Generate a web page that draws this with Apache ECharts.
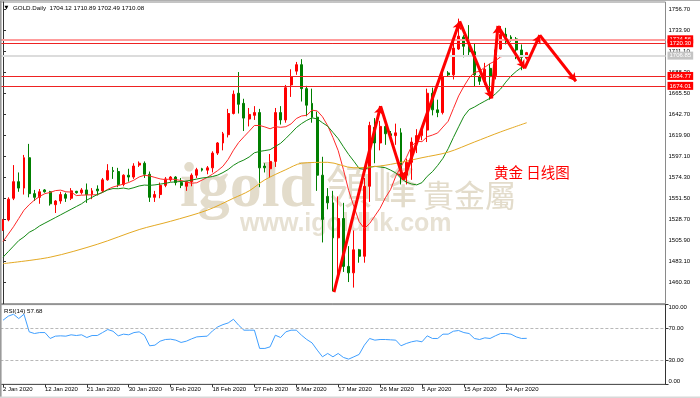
<!DOCTYPE html>
<html><head><meta charset="utf-8">
<script src="https://cdn.jsdelivr.net/npm/echarts@6/dist/echarts.min.js"></script>
<style>html,body{margin:0;padding:0;background:#fff}#c{width:700px;height:398px}</style>
</head><body><div id="c"></div>
<script>
// ---- data ----
const tickLabels = ['2 Jan 2020','12 Jan 2020','21 Jan 2020','30 Jan 2020','9 Feb 2020','18 Feb 2020','27 Feb 2020','8 Mar 2020','17 Mar 2020','26 Mar 2020','5 Apr 2020','15 Apr 2020','24 Apr 2020'];
const opens  = [1517.5,1528.5,1552,1570,1563,1596,1557,1553,1561,1559,1545,1549,1556,1552,1559.5,1558,1561,1556,1562,1560,1572,1582,1581,1567,1577,1575,1588,1590,1578,1553,1556,1566,1572,1575,1569,1565,1570,1577,1584,1582.5,1585,1601,1612,1621,1644,1666,1655,1638,1642,1645,1587,1584,1592,1645,1637,1675,1690,1697,1671,1655,1640,1577,1554,1547,1509,1530,1478,1471,1496,1489,1565,1629,1612,1630,1622,1620,1623,1577,1591,1613,1620,1626,1666,1648,1645,1688,1686,1714,1727,1717,1711,1684,1679,1693,1685,1714,1730,1727,1725,1713,1704.12];
const highs  = [1529.5,1553,1588,1580,1599,1611,1561,1562,1562,1560,1550,1559,1558,1563,1560,1563,1568,1563,1566,1574,1589,1586,1585,1578,1584,1590,1592,1592,1581,1560,1569,1575,1576,1576,1574,1571,1579,1585,1585,1587,1603,1613,1624,1649,1669,1689,1660,1650,1652,1649,1590,1600,1650,1652,1675,1692,1700,1703,1674,1671,1646,1597,1563,1560,1554,1547,1500,1517,1497,1574,1635,1639,1636,1635,1625,1633,1628,1595,1618,1627,1630,1671,1672,1659,1690,1690,1723,1747,1729,1740,1720,1686,1699,1698,1718,1739,1737,1729,1727,1719,1710.89];
const lows   = [1516.5,1527,1550,1559,1556,1553,1549,1546,1558,1544,1536,1546,1548,1550,1557,1556,1547,1551,1555,1558,1571,1573,1564,1565,1570,1573,1586,1574,1548,1548,1552,1564,1570,1566,1563,1560,1565,1574,1581,1578,1580,1599,1604,1618,1643,1644,1625,1630,1637,1564,1580,1574,1586,1632,1634,1662,1686,1657,1641,1634,1560,1504,1540,1451,1466,1472,1461,1455,1482,1482,1548,1590,1604,1610,1617,1610,1567,1567,1572,1601,1615,1613,1642,1640,1643,1684,1681,1713,1705,1707,1673,1675,1675,1659,1681,1713,1719,1722,1703,1691,1702.49];
const closes = [1528.5,1551,1570,1563,1596,1557,1553,1559,1559,1546,1549,1556,1552,1560,1558,1561,1556,1560,1560,1572,1582,1581,1567,1577,1575,1587,1590,1578,1553,1556,1566,1573,1575,1569,1566,1570,1577,1583,1582.5,1585,1601,1612,1622,1644,1665,1654,1639,1643,1645,1585,1585,1592,1645,1637,1672,1684,1697,1671,1653,1640,1577,1529,1547,1509,1530,1478,1471,1496,1489,1565,1631,1612,1630,1622,1620,1623,1577,1591,1613,1620,1626,1666,1648,1645,1684,1686,1715,1728,1717,1711,1686,1679,1692,1684,1713,1730,1727,1725,1713,1705,1710.08];
const ma10Lead = [1505,1513,1521,1530,1539,1545,1550,1554,1557];
const ma20Lead = [1488,1494,1500,1506,1510,1515,1518,1522,1525,1528,1531,1534,1537,1540,1543,1546,1550,1553,1556];
const slowMaIdx = [0,9,18,26,32,39,44,47,50,54,57,62,67,72,76,80,85,90,95,100];
const slowMaVal = [1481,1488,1502,1518,1527,1539,1552,1560,1572,1583,1590,1591,1585,1587,1591,1596,1602,1613,1624,1634];
const rsi = [80.4,85.5,87.9,82.5,87.9,65.8,63.7,64.9,64.9,57.5,60.4,60.8,60.4,62.1,61.2,62.1,58.7,61.2,61.2,64.9,68.7,66.6,60.8,62.9,62.1,64.9,65.8,61.6,48.3,49.1,54.1,56.2,56.6,55.4,52.5,54.1,57.0,59.5,60.0,60.4,67.0,72.0,74.9,77.0,81.6,74.1,67.9,67.9,67.9,45.0,45.0,47.0,61.6,58.7,65.8,67.9,67.9,61.6,56.2,52.0,42.9,34.5,38.7,34.5,38.7,33.7,31.6,34.5,37.5,49.1,57.5,55.4,56.2,56.2,55.8,55.4,48.3,51.2,53.3,54.6,53.3,60.8,57.5,57.5,62.9,62.9,66.6,67.5,64.9,63.7,57.5,56.2,58.3,57.5,60.8,63.7,63.7,62.9,59.5,57.5,57.68];
const levelVals   = [1724.56, 1720.30, 1706.85, 1684.77, 1674.01];
const arrowIdx   = [63.2, 72.1, 76.5, 87.2, 93.3, 94.5, 99.6, 102.5, 109.4];
const arrowPrice = [1450, 1652, 1572, 1744, 1660.5, 1739, 1693, 1729, 1679];
const rsiLevels = [70, 30];
const headerText = 'GOLD.Daily  1704.12 1710.89 1702.49 1710.08';
const rsiText = 'RSI(14) 57.68';

// ---- build ----
const N = 127;
const cats = Array.from({length: N}, (_, i) => String(i));
const candles = opens.map((o, i) => [o, closes[i], lows[i], highs[i]]);
function sma(n, lead) {
  return closes.map((c, i) => {
    if (i < n - 1) return lead[i];
    let s = 0; for (let k = i - n + 1; k <= i; k++) s += closes[k];
    return +(s / n).toFixed(2);
  });
}
const ma10 = sma(10, ma10Lead), ma20 = sma(20, ma20Lead);
const slowMa = slowMaIdx.map((x, i) => [x, slowMaVal[i]]);
const arrowLegs = [];
for (let i = 0; i < arrowIdx.length - 1; i++) arrowLegs.push([{coord: [arrowIdx[i], arrowPrice[i]]}, {coord: [arrowIdx[i+1], arrowPrice[i+1]]}]);
const levelStyles = [
  {line: '#ff9c9c', w: 2, bg: '#ff0000'},
  {line: '#ee2222', w: 1, bg: '#ff0000'},
  {line: '#dcdcdc', w: 2, bg: '#c4c4c4'},
  {line: '#ee2222', w: 1, bg: '#ff0000'},
  {line: '#ee2222', w: 1, bg: '#ff0000'}
];
const FF = '"Liberation Sans", Arial, sans-serif';
const tickFn = (i) => i % 8 === 0 && i / 8 < tickLabels.length;

const chart = echarts.init(document.getElementById('c'), null, {renderer: 'canvas'});
chart.setOption({
  animation: false,
  backgroundColor: '#ffffff',
  grid: [
    {left: 0.4, right: 34.5, top: 2, height: 301.7, show: true, borderColor: '#8a8a8a', borderWidth: 1, outerBoundsMode: 'none', containLabel: false},
    {left: 0.4, right: 34.5, top: 304.6, height: 79.7, show: true, borderColor: '#8a8a8a', borderWidth: 1, outerBoundsMode: 'none', containLabel: false}
  ],
  xAxis: [
    {type: 'category', gridIndex: 0, data: cats, boundaryGap: true, axisLine: {show: false}, axisTick: {show: false}, axisLabel: {show: false}, splitLine: {show: false}},
    {type: 'value', gridIndex: 0, min: -0.5, max: N - 0.5, show: false, splitLine: {show: false}},
    {type: 'category', gridIndex: 1, data: cats, boundaryGap: true,
     axisLine: {show: true, lineStyle: {color: '#555', width: 1}},
     axisTick: {show: true, interval: tickFn, alignWithLabel: true, length: 3, lineStyle: {color: '#333'}},
     axisLabel: {show: true, interval: tickFn, align: 'left', fontSize: 6, fontFamily: FF, color: '#000', margin: 2,
       formatter: (v, i) => tickLabels[Math.round(i / 8)] || ''},
     splitLine: {show: false}}
  ],
  yAxis: [
    {type: 'value', gridIndex: 0, position: 'right', min: 1437.5, max: 1765.06, interval: 22.8, scale: true,
     axisLine: {show: true, lineStyle: {color: '#333', width: 1}},
     axisTick: {show: true, length: 3, lineStyle: {color: '#333'}},
     axisLabel: {fontSize: 6, fontFamily: FF, color: '#000', margin: 3, showMinLabel: false, showMaxLabel: false,
       formatter: v => v.toFixed(2)},
     splitLine: {show: false}},
    {type: 'value', gridIndex: 1, position: 'right', min: 0, max: 100,
     axisLine: {show: true, lineStyle: {color: '#333', width: 1}},
     axisTick: {show: true, length: 3, customValues: [0, 30, 70, 100], lineStyle: {color: '#333'}},
     axisLabel: {fontSize: 6, fontFamily: FF, color: '#000', margin: 3, customValues: [0, 30, 70, 100],
       verticalAlignMinLabel: 'bottom', verticalAlignMaxLabel: 'top', formatter: v => v.toFixed(2)},
     splitLine: {show: false}}
  ],
  series: [
    {type: 'candlestick', name: 'GOLD', xAxisIndex: 0, yAxisIndex: 0, data: candles, barWidth: 2.4, z: 3,
     itemStyle: {color: '#ff0000', color0: '#007f00', borderColor: '#ff0000', borderColor0: '#007f00', borderWidth: 1},
     markLine: {silent: true, symbol: ['none', 'none'], animation: false, z: 6,
       data: levelVals.map((v, i) => ({yAxis: v,
         lineStyle: {color: levelStyles[i].line, width: levelStyles[i].w, type: 'solid'},
         label: {show: true, position: 'end', distance: 2, formatter: p => Number(p.value).toFixed(2),
           backgroundColor: levelStyles[i].bg, color: '#fff', fontSize: 6, fontFamily: FF, padding: [1, 2, 1, 2]}}))}},
    {type: 'line', name: 'MA10', xAxisIndex: 0, yAxisIndex: 0, data: ma10, symbol: 'none', z: 4,
     lineStyle: {color: '#ff2a2a', width: 1}},
    {type: 'line', name: 'MA20', xAxisIndex: 0, yAxisIndex: 0, data: ma20, symbol: 'none', z: 4,
     lineStyle: {color: '#158a15', width: 1}},
    {type: 'line', name: 'MAslow', xAxisIndex: 1, yAxisIndex: 0, data: slowMa, symbol: 'none', smooth: 0.3, z: 4,
     lineStyle: {color: '#e4a923', width: 1}},
    {type: 'line', name: 'arrows', xAxisIndex: 1, yAxisIndex: 0, data: arrowIdx.map((x, i) => [x, arrowPrice[i]]), symbol: 'none', z: 5,
     lineStyle: {opacity: 0},
     markLine: {silent: true, symbol: ['none', 'arrow'], symbolSize: [7, 8], animation: false, z: 7,
       lineStyle: {color: '#ff0000', width: 3, type: 'solid'}, label: {show: false}, data: arrowLegs}},
    {type: 'line', name: 'RSI', xAxisIndex: 2, yAxisIndex: 1, data: rsi, symbol: 'none', z: 4,
     lineStyle: {color: '#3f9fff', width: 1},
     markLine: {silent: true, symbol: ['none', 'none'], animation: false, label: {show: false},
       lineStyle: {color: '#b8b8b8', width: 1, type: [3, 2]}, data: rsiLevels.map(v => ({yAxis: v}))}}
  ],
  graphic: [
    {type: 'text', x: 180, y: 189, z: 0, silent: true, style: {text: 'igold', fontSize: 64, fontWeight: 'bold', fontFamily: '"Liberation Serif", serif', fill: '#e3dccb', verticalAlign: 'middle'}},
    {type: 'text', x: 326, y: 186, z: 0, silent: true, style: {text: '領峰', fontSize: 46, fontFamily: '"Noto Sans CJK TC"', fill: '#e3dccb', verticalAlign: 'middle'}},
    {type: 'text', x: 423, y: 195, z: 0, silent: true, style: {text: '貴金屬', fontSize: 31, fontFamily: '"Noto Sans CJK TC"', fill: '#e3dccb', verticalAlign: 'middle'}},
    {type: 'text', x: 240, y: 224, z: 0, silent: true, style: {text: 'www.igoldhk.com', fontSize: 25, fontWeight: 'bold', fontFamily: FF, fill: '#e7e1d3', verticalAlign: 'middle'}},
    {type: 'text', x: 494, y: 172, z: 50, silent: true, style: {text: '黄金 日线图', fontSize: 14.5, fontFamily: '"Noto Sans CJK SC"', fill: '#ff0000', verticalAlign: 'middle'}},
    {type: 'text', x: 4.5, y: 8, z: 50, silent: true, style: {text: '▼', fontSize: 5, fontFamily: '"DejaVu Sans"', fill: '#000', verticalAlign: 'middle'}},
    {type: 'text', x: 13, y: 8, z: 50, silent: true, style: {text: headerText, fontSize: 6.2, fontFamily: FF, fill: '#000', verticalAlign: 'middle'}},
    {type: 'text', x: 4, y: 311, z: 50, silent: true, style: {text: rsiText, fontSize: 6.2, fontFamily: FF, fill: '#000', verticalAlign: 'middle'}},
    {type: 'rect', x: 0, y: 0, z: 60, silent: true, shape: {width: 1.6, height: 398}, style: {fill: '#9a9a9a'}},
    {type: 'rect', x: 0, y: 0, z: 60, silent: true, shape: {width: 700, height: 1}, style: {fill: '#b0b0b0'}},
    {type: 'rect', x: 0, y: 396.5, z: 60, silent: true, shape: {width: 700, height: 1.5}, style: {fill: '#d8d8d8'}}
  ]
});
</script></body></html>
